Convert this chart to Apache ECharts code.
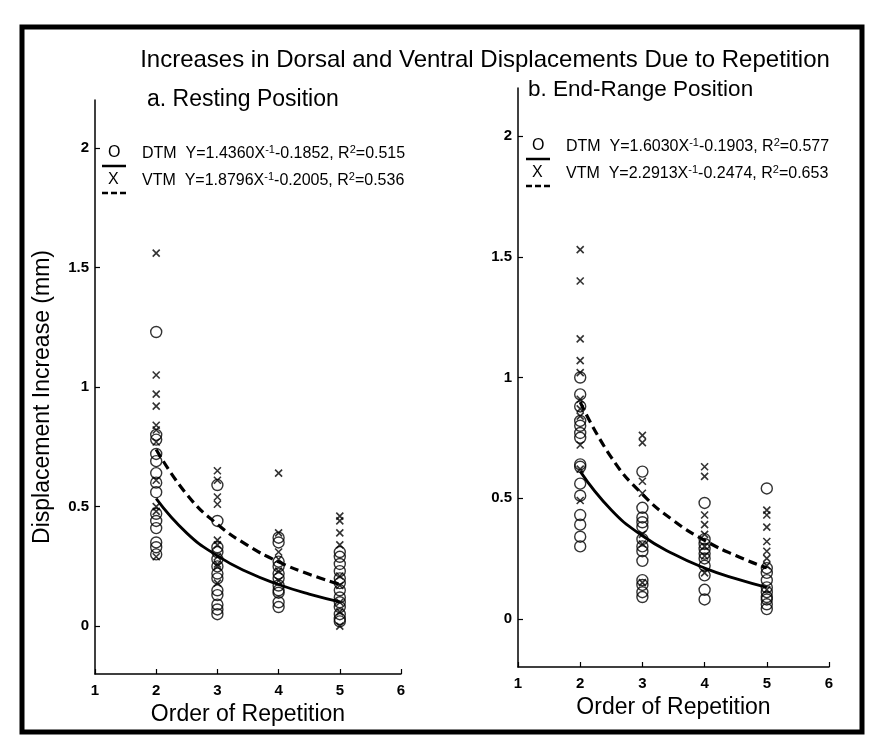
<!DOCTYPE html>
<html><head><meta charset="utf-8">
<script src="https://cdn.jsdelivr.net/npm/echarts@6/dist/echarts.min.js"></script>
<style>html,body{margin:0;padding:0;background:#fff}#c{width:871px;height:737px}</style>
</head><body><div id="c"></div>
<script>
// ---------- data ----------
const repetitions = [2, 3, 4, 5];
const xTicks = [1, 2, 3, 4, 5, 6];
const yTicks = [0, 0.5, 1, 1.5, 2];

const mainTitle = 'Increases in Dorsal and Ventral Displacements Due to Repetition';
const panelTitles = ['a. Resting Position', 'b. End-Range Position'];
const yName = 'Displacement Increase (mm)';
const xName = 'Order of Repetition';

// a. Resting position, one list per repetition (2,3,4,5)
const restDTM = [
  [1.23, 0.80, 0.78, 0.72, 0.69, 0.64, 0.60, 0.56, 0.47, 0.44, 0.41, 0.35, 0.33, 0.30],
  [0.59, 0.44, 0.33, 0.31, 0.28, 0.25, 0.22, 0.20, 0.15, 0.13, 0.09, 0.07, 0.05],
  [0.37, 0.35, 0.27, 0.25, 0.22, 0.20, 0.17, 0.15, 0.14, 0.10, 0.08],
  [0.31, 0.29, 0.26, 0.23, 0.20, 0.18, 0.15, 0.12, 0.10, 0.08, 0.05, 0.03, 0.02]
];
const restVTM = [
  [1.56, 1.05, 0.97, 0.92, 0.84, 0.82, 0.77, 0.61, 0.50, 0.48, 0.29],
  [0.65, 0.61, 0.54, 0.51, 0.36, 0.34, 0.29, 0.26, 0.25, 0.18],
  [0.64, 0.39, 0.31, 0.28, 0.23, 0.19],
  [0.46, 0.44, 0.39, 0.34, 0.21, 0.17, 0.10, 0.06, 0.00]
];
// b. End-range position
const endDTM = [
  [1.00, 0.93, 0.88, 0.82, 0.80, 0.77, 0.75, 0.64, 0.63, 0.56, 0.51, 0.43, 0.39, 0.34, 0.30],
  [0.61, 0.46, 0.42, 0.40, 0.38, 0.33, 0.30, 0.28, 0.24, 0.16, 0.14, 0.11, 0.09],
  [0.48, 0.33, 0.31, 0.29, 0.27, 0.25, 0.22, 0.18, 0.12, 0.08],
  [0.54, 0.21, 0.19, 0.16, 0.13, 0.11, 0.09, 0.08, 0.06, 0.04]
];
const endVTM = [
  [1.53, 1.40, 1.16, 1.07, 1.02, 0.91, 0.87, 0.84, 0.72, 0.62, 0.49],
  [0.76, 0.73, 0.57, 0.52, 0.35, 0.31, 0.15],
  [0.63, 0.59, 0.43, 0.39, 0.35, 0.30, 0.26, 0.19],
  [0.45, 0.43, 0.38, 0.32, 0.28, 0.25, 0.22, 0.12]
];

// fitted curves, read along x
const fitX = [2, 2.5, 3, 3.5, 4, 4.5, 5];
const restDTMFit = [0.533, 0.389, 0.294, 0.225, 0.174, 0.134, 0.102];
const restVTMFit = [0.739, 0.551, 0.426, 0.337, 0.269, 0.217, 0.175];
const endDTMFit  = [0.611, 0.451, 0.344, 0.268, 0.210, 0.166, 0.130];
const endVTMFit  = [0.898, 0.669, 0.516, 0.407, 0.325, 0.262, 0.211];

// legend equations: [name, coef, const, r2]
const restLegend = [['DTM', '1.4360', '0.1852', '0.515'], ['VTM', '1.8796', '0.2005', '0.536']];
const endLegend  = [['DTM', '1.6030', '0.1903', '0.577'], ['VTM', '2.2913', '0.2474', '0.653']];

// ---------- build ----------
const FONT = '"Liberation Sans", Arial, Helvetica, sans-serif';
const X_PATH = 'path://M0,0L10,10M10,0L0,10';

function toPoints(groups) {
  const out = [];
  groups.forEach((vals, i) => vals.forEach(v => out.push([repetitions[i], v])));
  return out;
}
function toLine(ys) { return fitX.map((x, i) => [x, ys[i]]); }

const grids = [
  { left: 95, top: 100, width: 306, height: 574 },
  { left: 518, top: 88, width: 311, height: 579 }
];

function xAxisFor(i) {
  return {
    gridIndex: i, type: 'value', min: 1, max: 6, interval: 1,
    name: xName, nameLocation: 'middle', nameGap: 22,
    nameTextStyle: { fontFamily: FONT, fontSize: 23, color: '#000' },
    axisLine: { onZero: false, lineStyle: { color: '#000', width: 1.5 } },
    axisTick: { inside: true, length: 5, lineStyle: { color: '#000', width: 1.2 } },
    axisLabel: { fontFamily: FONT, fontSize: 15, fontWeight: 'bold', color: '#000', margin: 9 },
    splitLine: { show: false }
  };
}
function yAxisFor(i) {
  return {
    gridIndex: i, type: 'value', min: -0.2, max: 2.2,
    axisLine: { lineStyle: { color: '#000', width: 1.5 } },
    axisTick: { inside: true, length: 5, customValues: yTicks, lineStyle: { color: '#000', width: 1.2 } },
    axisLabel: { customValues: yTicks, fontFamily: FONT, fontSize: 15, fontWeight: 'bold', color: '#000', margin: 6,
      formatter: v => String(v) },
    splitLine: { show: false }
  };
}

function scatter(i, groups, isX) {
  return {
    type: 'scatter', xAxisIndex: i, yAxisIndex: i, data: toPoints(groups),
    symbol: isX ? X_PATH : 'circle', symbolSize: isX ? 7 : 11,
    itemStyle: { color: 'rgba(0,0,0,0)', borderColor: '#000', borderWidth: isX ? 1.6 : 1.4 },
    silent: true, z: 3
  };
}
function curve(i, ys, dashed) {
  return {
    type: 'line', xAxisIndex: i, yAxisIndex: i, data: toLine(ys), smooth: true, symbol: 'none',
    lineStyle: { color: '#000', width: dashed ? 3.2 : 2.8, type: dashed ? [9, 5] : 'solid' },
    silent: true, z: 4
  };
}

function legendGroup(x, y, rows) {
  const children = [];
  rows.forEach((r, k) => {
    const cy = y + k * 27;
    children.push({ type: 'text', left: x + 6, top: cy - 10,
      style: { text: k === 0 ? 'O' : 'X', font: '16px ' + FONT, fill: '#000' } });
    children.push({ type: 'line', shape: { x1: x, y1: cy + 11, x2: x + 24, y2: cy + 11 },
      style: { stroke: '#000', lineWidth: 2.5, lineDash: k === 0 ? null : [6, 3] } });
    children.push({ type: 'text', left: x + 40, top: cy - 11,
      style: {
        text: r[0] + '  Y=' + r[1] + 'X{sup|-1}-' + r[2] + ', R{sup|2}=' + r[3],
        font: '16px ' + FONT, fill: '#000', lineHeight: 20,
        rich: { sup: { fontSize: 11, fontFamily: FONT, verticalAlign: 'top', lineHeight: 20, padding: [0, 0, 7, 0] } }
      } });
  });
  return { type: 'group', children };
}

const option = {
  backgroundColor: '#fff',
  animation: false,
  grid: grids,
  xAxis: [xAxisFor(0), xAxisFor(1)],
  yAxis: [yAxisFor(0), yAxisFor(1)],
  series: [
    scatter(0, restDTM, false), scatter(0, restVTM, true),
    curve(0, restDTMFit, false), curve(0, restVTMFit, true),
    scatter(1, endDTM, false), scatter(1, endVTM, true),
    curve(1, endDTMFit, false), curve(1, endVTMFit, true)
  ],
  graphic: [
    { type: 'rect', shape: { x: 22, y: 27, width: 840, height: 705 },
      style: { fill: 'none', stroke: '#000', lineWidth: 5 }, silent: true },
    { type: 'text', x: 485, y: 60, style: { text: mainTitle, font: '24px ' + FONT, fill: '#000', textAlign: 'center', textVerticalAlign: 'middle' } },
    { type: 'text', x: 147, y: 100, style: { text: panelTitles[0], font: '23px ' + FONT, fill: '#000', textAlign: 'left', textVerticalAlign: 'middle' } },
    { type: 'text', x: 528, y: 90, style: { text: panelTitles[1], font: '22.5px ' + FONT, fill: '#000', textAlign: 'left', textVerticalAlign: 'middle' } },
    { type: 'text', x: 43, y: 397, rotation: Math.PI / 2,
      style: { text: yName, font: '23px ' + FONT, fill: '#000', textAlign: 'center', textVerticalAlign: 'middle' } },
    legendGroup(102, 155, restLegend),
    legendGroup(526, 148, endLegend)
  ]
};

const chart = echarts.init(document.getElementById('c'), null, { renderer: 'canvas' });
chart.setOption(option);
</script>
</body></html>
